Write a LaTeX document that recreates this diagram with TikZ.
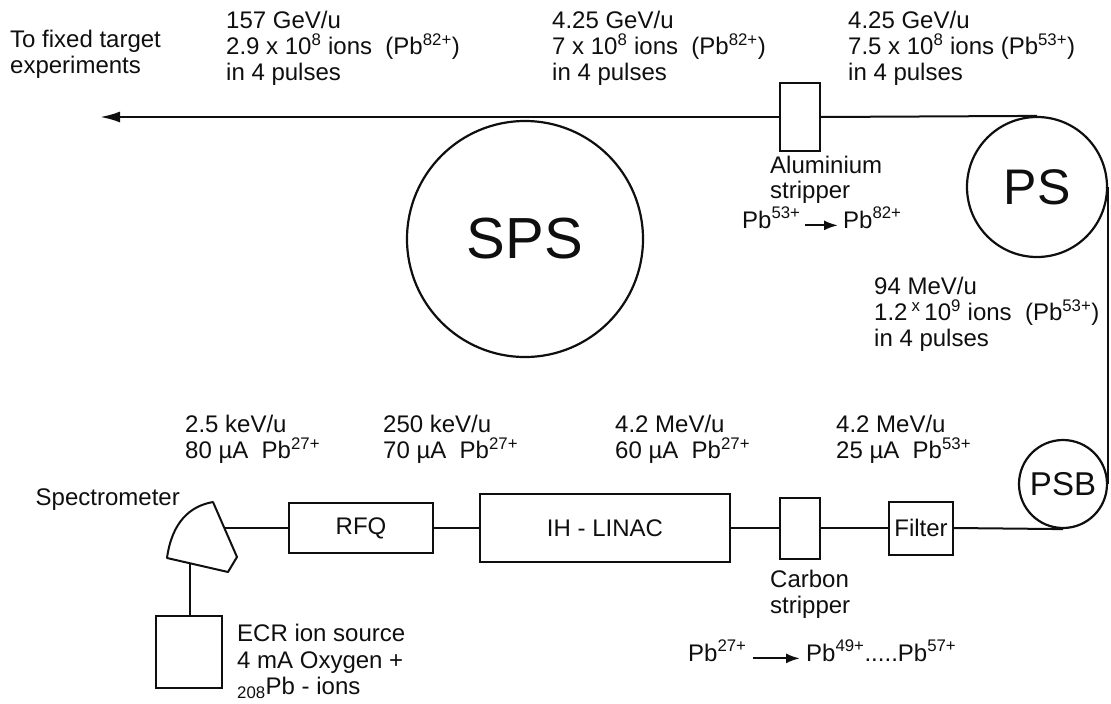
\documentclass[tikz,border=0pt]{standalone}
\usepackage{fontspec}
\setmainfont{Liberation Sans}
\usetikzlibrary{arrows.meta,calc}
\definecolor{Ink}{RGB}{15,15,15}
\tikzset{
  nd_ring/.style={circle,draw=Ink,line width=2.2pt,inner sep=0pt,text=Ink},
  nd_box/.style={rectangle,draw=Ink,fill=white,line width=2pt,inner sep=0pt,text=Ink,font=\fontsize{24}{26}\selectfont},
  nd_txt/.style={anchor=north west,align=left,inner sep=0pt,text=Ink,font=\fontsize{24}{26}\selectfont},
  beam/.style={draw=Ink,line width=2pt},
  arr/.style={-{Latex[length=20pt,width=11pt]},line width=2.4pt,draw=Ink},
  conv/.style={-{Latex[length=14pt,width=10pt]},line width=2.2pt,draw=Ink},
}

\begin{document}
\begin{tikzpicture}[x=1pt,y=-1pt]
\useasboundingbox (0,0) rectangle (1111,704);
\def\yT{117}\def\yB{528}
% rings
\node[nd_ring,minimum size=236pt,font=\fontsize{58}{60}\selectfont] at (525,239)(SPS){SPS};
\node[nd_ring,minimum size=140pt,font=\fontsize{50}{52}\selectfont] at (1037,187)(PS){PS};
\node[nd_ring,minimum size=88pt,font=\fontsize{33}{35}\selectfont] at (1063,484)(PSB){PSB};
% extraction line
\node[nd_box,minimum width=40pt,minimum height=68pt] at (800,\yT)(AL){};
\coordinate (tip) at (100,\yT);
\draw[beam](PS.north)--(AL.east);
\draw[arr](AL.west)--(tip);
\draw[beam](PS.east)--(PSB.east);
% top labels
\node[nd_txt] at (10,30)(T0){To fixed target\\experiments};
\node[nd_txt] at (226,11)(T1){157 GeV/u\\2.9 x 10\textsuperscript{8} ions~~(Pb\textsuperscript{82+})\\in 4 pulses};
\node[nd_txt] at (552,11)(T2){4.25 GeV/u\\7 x 10\textsuperscript{8} ions~~(Pb\textsuperscript{82+})\\in 4 pulses};
\node[nd_txt] at (848,11)(T3){4.25 GeV/u\\7.5 x 10\textsuperscript{8} ions (Pb\textsuperscript{53+})\\in 4 pulses};
\node[nd_txt,font=\fontsize{24}{24.5}\selectfont] at (770,156)(ALt){Aluminium\\stripper};
\node[nd_txt,anchor=base west] at (742,228)(ALa){Pb\textsuperscript{53+}};
\node[nd_txt,anchor=base west] at (843,228)(ALb){Pb\textsuperscript{82+}};
\draw[conv]([xshift=4pt]ALa.mid east)--([xshift=-5pt]ALb.mid west);
\node[nd_txt] at (874,277)(T4){94 MeV/u\\1.2\,\textsuperscript{x}\,10\textsuperscript{9} ions~~(Pb\textsuperscript{53+})\\in 4 pulses};
% linac line
\node[nd_box,minimum width=144pt,minimum height=50pt] at (361,\yB)(RFQ){RFQ};
\node[nd_box,minimum width=250pt,minimum height=68pt] at (605,\yB)(LIN){IH - LINAC};
\node[nd_box,minimum width=40pt,minimum height=61pt] at (800,\yB)(CS){};
\node[nd_box,minimum width=64pt,minimum height=53pt] at (921,\yB)(FIL){Filter};
\node[nd_box,minimum width=66pt,minimum height=72pt] at (189,652)(ECR){};
% spectrometer
\coordinate (spT) at (213,502);
\coordinate (spR) at (237,557);
\coordinate (spD) at (228,572);
\coordinate (spL) at (167,558);
\coordinate (spO) at (225,\yB);
\coordinate (spB) at (190,563);
\draw[beam,line join=round,fill=white](spL)..controls(172,522)and(190,506)..(spT)--(spR)--(spD)--cycle;
\draw[beam](spO)--(RFQ.west);
\draw[beam](RFQ)--(LIN);
\draw[beam](LIN)--(CS);
\draw[beam](CS)--(FIL);
\draw[beam](FIL.east)--(PSB.south);
\draw[beam](spB)--(spB|-ECR.north);
% bottom labels
\node[nd_txt] at (185,415)(E1){2.5 keV/u\\80 µA~~Pb\textsuperscript{27+}};
\node[nd_txt] at (383,415)(E2){250 keV/u\\70 µA~~Pb\textsuperscript{27+}};
\node[nd_txt] at (615,415)(E3){4.2 MeV/u\\60 µA~~Pb\textsuperscript{27+}};
\node[nd_txt] at (836,415)(E4){4.2 MeV/u\\25 µA~~Pb\textsuperscript{53+}};
\node[nd_txt,anchor=east] at (180,500)(SPt){Spectrometer};
\node[nd_txt,font=\fontsize{24}{26.5}\selectfont] at (237,624)(ECRt){ECR ion source\\4 mA Oxygen +\\\textsubscript{208}Pb - ions};
\node[nd_txt] at (770,570)(CSt){Carbon\\stripper};
\node[nd_txt,anchor=base west] at (688,661)(CSa){Pb\textsuperscript{27+}};
\node[nd_txt,anchor=base west] at (806,661)(CSb){Pb\textsuperscript{49+}.....Pb\textsuperscript{57+}};
\draw[conv]([xshift=6pt]CSa.mid east)--([xshift=-6pt]CSb.mid west);
\end{tikzpicture}
\end{document}
